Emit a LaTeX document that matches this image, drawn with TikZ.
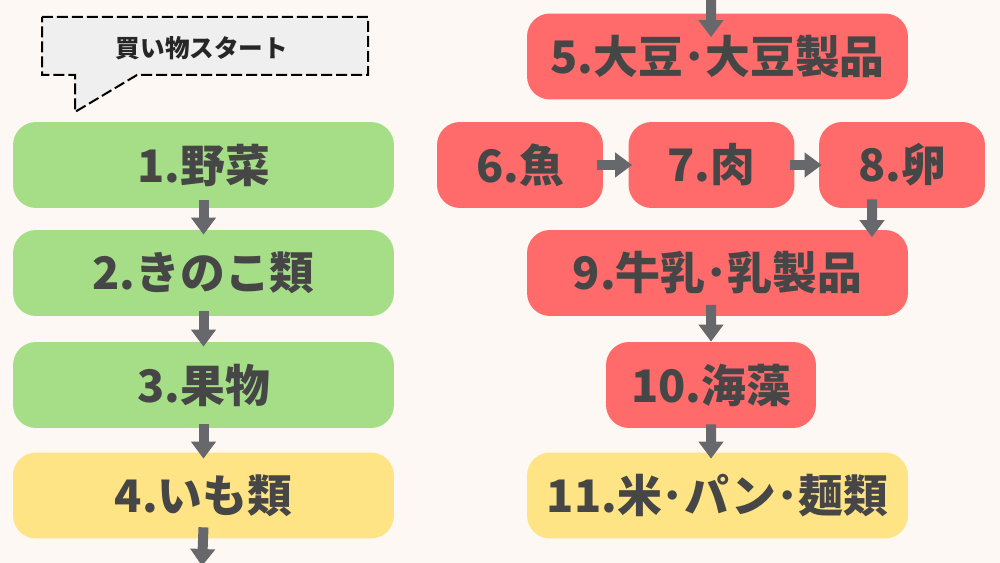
\documentclass[tikz,border=0pt]{standalone}
\usepackage{fontspec}
\setmainfont{Noto Sans CJK JP}
\usetikzlibrary{arrows.meta}

\definecolor{bg}{HTML}{FDF8F3}
\definecolor{veg}{HTML}{A6DE87}
\definecolor{main}{HTML}{FF6B6B}
\definecolor{carb}{HTML}{FFE486}
\definecolor{ink}{HTML}{464646}
\definecolor{flow}{HTML}{66686B}
\definecolor{note}{HTML}{EFEFEF}

\begin{document}
\begin{tikzpicture}[x=0.02cm,y=-0.02cm,
    box/.style={rounded corners=0.46cm,minimum height=1.72cm,inner sep=0pt,
        text=ink,font=\fontsize{25.5}{30}\selectfont\bfseries},
    wide/.style={box,minimum width=7.62cm},
    short/.style={box,minimum width=3.32cm},
    go/.style={draw=flow,line width=0.2cm,-{Triangle[width=0.48cm,length=0.34cm]}}]
    \path[use as bounding box,fill=bg] (0,0) rectangle (1000,563);

    % speech bubble
    \draw[fill=note,line width=0.04cm,dash pattern=on 0.22cm off 0.08cm]
        (42,17) -- (368,17) -- (368,75) -- (137,75) -- (75,112) -- (75,75) -- (42,75) -- cycle;
    \node[font=\fontsize{14}{16}\selectfont\bfseries,text=black!85] (start) at (202,48) {買い物スタート};

    \node[wide,fill=veg] (veg1) at (203.5,165) {1.野菜};
    \node[wide,fill=veg] (veg2) at (203.5,273) {2.きのこ類};
    \node[wide,fill=veg] (fruit) at (203.5,385) {3.果物};
    \node[wide,fill=carb] (imo) at (203.5,495.5) {4.いも類};

    \node[wide,fill=main] (soy) at (717.5,56.5) {5.大豆･大豆製品};
    \node[short,fill=main] (fish) at (520,165) {6.魚};
    \node[short,fill=main] (meat) at (711.5,165) {7.肉};
    \node[short,fill=main] (egg) at (902,165) {8.卵};
    \node[wide,fill=main] (milk) at (717.5,273) {9.牛乳･乳製品};
    \node[box,fill=main,minimum width=4.2cm] (sea) at (711,385) {10.海藻};
    \node[wide,fill=carb] (grain) at (717.5,495.5) {11.米･パン･麺類};

    \coordinate (top) at (711,-3);
    \coordinate (bottom) at (202,566);

    \draw[go] ([yshift=0.16cm]veg1.south) -- ([yshift=-0.1cm]veg2.north);
    \draw[go] ([yshift=0.1cm]veg2.south) -- ([yshift=-0.1cm]fruit.north);
    \draw[go] ([yshift=0.08cm]fruit.south) -- ([yshift=-0.13cm]imo.north);
    \draw[go] ([yshift=0.23cm]imo.south) -- (bottom);

    \draw[go] (top) -- ([xshift=-0.13cm,yshift=-0.48cm]soy.north);
    \draw[go] ([xshift=-0.12cm]fish.east) -- ([xshift=0.08cm]meat.west);
    \draw[go] ([xshift=-0.1cm]meat.east) -- ([xshift=0.06cm]egg.west);
    \draw[go] ([xshift=-0.6cm,yshift=0.18cm]egg.south) -- ([xshift=3.09cm,yshift=-0.15cm]milk.north);
    \draw[go] ([xshift=-0.13cm,yshift=0.23cm]milk.south) -- (sea.north);
    \draw[go] ([yshift=0.08cm]sea.south) -- ([xshift=-0.13cm,yshift=-0.13cm]grain.north);
\end{tikzpicture}
\end{document}
